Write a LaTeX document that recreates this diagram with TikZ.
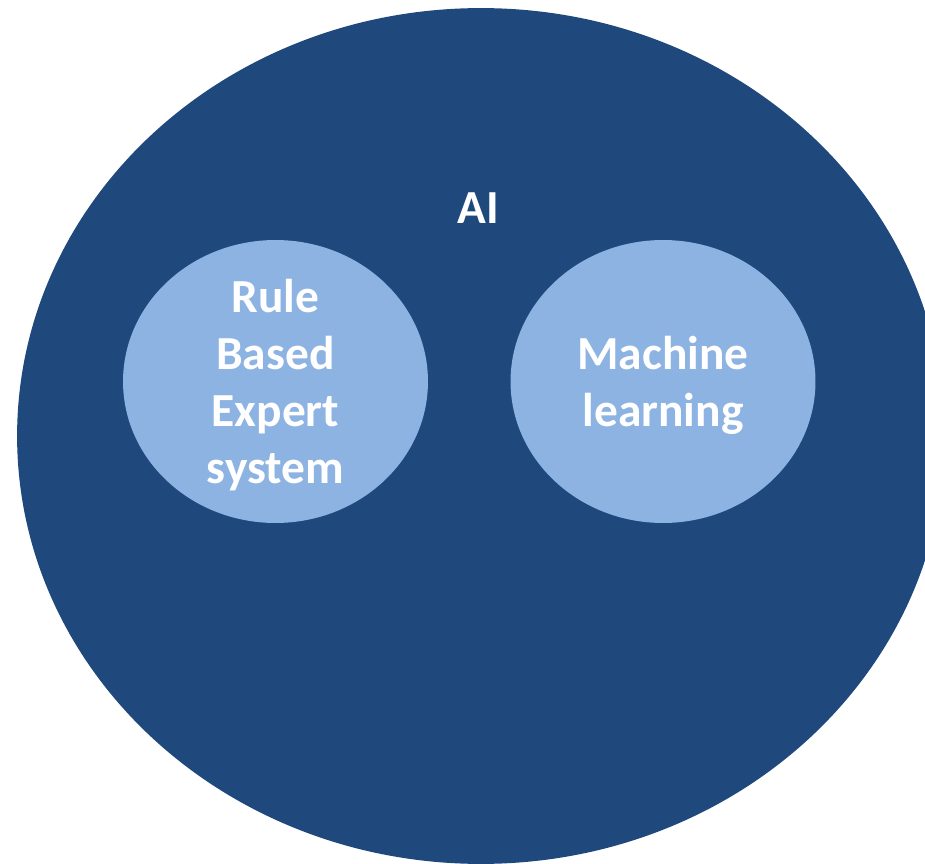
\documentclass[tikz,border=0pt]{standalone}
\usepackage{fontspec}
\setmainfont{Carlito}
\usepackage{xcolor}
\usepackage{tikz}
\usetikzlibrary{shapes.geometric,positioning}

\definecolor{aiblue}{HTML}{1F497D}
\definecolor{subblue}{HTML}{8DB3E2}

\begin{document}
\begin{tikzpicture}[
    x=0.02cm, y=-0.02cm,
    outer/.style={ellipse, fill=aiblue, minimum width=18.56cm, minimum height=17.12cm, inner sep=0pt},
    inner/.style={ellipse, fill=subblue, minimum width=6.1cm, minimum height=5.66cm, inner sep=0pt},
    label/.style={text=white, font=\fontsize{27}{32.3}\selectfont\bfseries, align=center}
]

\useasboundingbox (0,0) rectangle (925,864);
\clip (0,0) rectangle (925,864);

% Outer field
\node[outer] (ai) at (481,436) {};
\node[label] (ailabel) at (478,208) {AI};

% Sub-fields
\node[inner] (rules) at (275.5,381.5) {};
\node[label] (rulestext) at ([yshift=-2pt]rules.center) {Rule\\Based\\Expert\\system};

\node[inner] (ml) at (663,381.5) {};
\node[label] (mltext) at ([yshift=-2pt]ml.center) {Machine\\learning};

\end{tikzpicture}
\end{document}
